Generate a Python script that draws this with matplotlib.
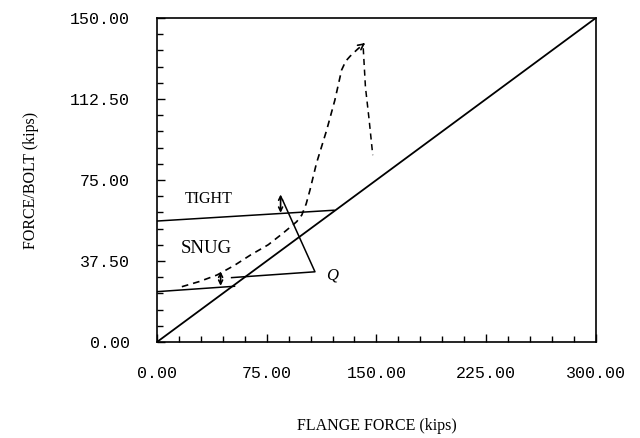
import matplotlib
matplotlib.use("Agg")
import matplotlib.pyplot as plt
from matplotlib.ticker import MultipleLocator, FormatStrFormatter

# ===== data (kips) =====
diag_x = [0, 300]
diag_y = [0, 150]

tight_x = [0, 121]
tight_y = [56.0, 61.0]

snug_x = [0, 53]
snug_y = [23.3, 25.8]

q_x = [51, 108, 86]
q_y = [29.8, 32.5, 65.5]

load_x = [17, 29, 41, 53, 64, 76, 86, 95.5, 99, 102, 104.6, 109, 116, 121.6, 126.2, 129, 132, 137, 141]
load_y = [25.6, 28.0, 31.0, 35.5, 40.3, 45.0, 50.3, 55.7, 58.8, 64.0, 70.4, 82.7, 98.1, 112.0, 125.9, 130.0, 132.3, 135.5, 137.8]

unload_x = [141.0, 142.5, 145, 147.5]
unload_y = [136.0, 118.0, 103.0, 86.5]

# double arrows (x, y_low, y_high)
gap_x = [43.5, 84.5]
gap_lo = [26.0, 59.8]
gap_hi = [32.6, 68.3]

# ===== figure =====
fig = plt.figure(figsize=(6.4, 4.38), dpi=100)
ax = fig.add_axes([0.2453, 0.2192, 0.6857, 0.7397])

ax.plot(diag_x, diag_y, color="black", lw=1.3)
ax.plot(tight_x, tight_y, color="black", lw=1.1)
ax.plot(snug_x, snug_y, color="black", lw=1.1)
ax.plot(q_x, q_y, color="black", lw=1.1)
ax.plot(load_x, load_y, color="black", lw=1.2, ls=(0, (4, 3)))
ax.plot(unload_x, unload_y, color="black", lw=1.1, ls=(0, (4, 3)))

# arrow at the peak
ax.annotate("", xy=(143.8, 139.2), xytext=(139.5, 137.0),
            arrowprops=dict(arrowstyle="->", color="black", lw=1.2))

for gx, lo, hi in zip(gap_x, gap_lo, gap_hi):
    ax.annotate("", xy=(gx, hi), xytext=(gx, lo),
                arrowprops=dict(arrowstyle="<->", color="black", lw=1.2,
                                mutation_scale=7, shrinkA=0, shrinkB=0))

ax.text(35, 66.2, "TIGHT", family="Liberation Serif", fontsize=11.5,
        ha="center", va="center")
ax.text(34, 43.4, "SNUG", family="Liberation Serif", fontsize=13.5,
        ha="center", va="center")
ax.text(120, 30.6, "Q", family="Liberation Serif", style="italic",
        fontsize=12, ha="center", va="center")

# ===== axes =====
ax.set_xlim(0, 300)
ax.set_ylim(0, 150)
ax.xaxis.set_major_locator(MultipleLocator(75))
ax.xaxis.set_minor_locator(MultipleLocator(15))
ax.yaxis.set_major_locator(MultipleLocator(37.5))
ax.yaxis.set_minor_locator(MultipleLocator(7.5))
ax.xaxis.set_major_formatter(FormatStrFormatter("%.2f"))
ax.yaxis.set_major_formatter(FormatStrFormatter("%.2f"))

ax.tick_params(which="both", direction="in", width=1.0)
ax.tick_params(which="major", length=6)
ax.tick_params(which="minor", length=4)
ax.tick_params(axis="x", which="major", pad=17)
ax.tick_params(axis="y", which="major", pad=19.5)
for lab in ax.get_xticklabels() + ax.get_yticklabels():
    lab.set_family("Liberation Mono")
    lab.set_fontsize(12)

for s in ax.spines.values():
    s.set_linewidth(1.2)

ax.set_xlabel("FLANGE FORCE (kips)", family="Liberation Serif", fontsize=11.5,
              labelpad=27)
ax.set_ylabel("FORCE/BOLT (kips)", family="Liberation Serif", fontsize=11.5,
              labelpad=22)

fig.savefig("out.png", dpi=100)
